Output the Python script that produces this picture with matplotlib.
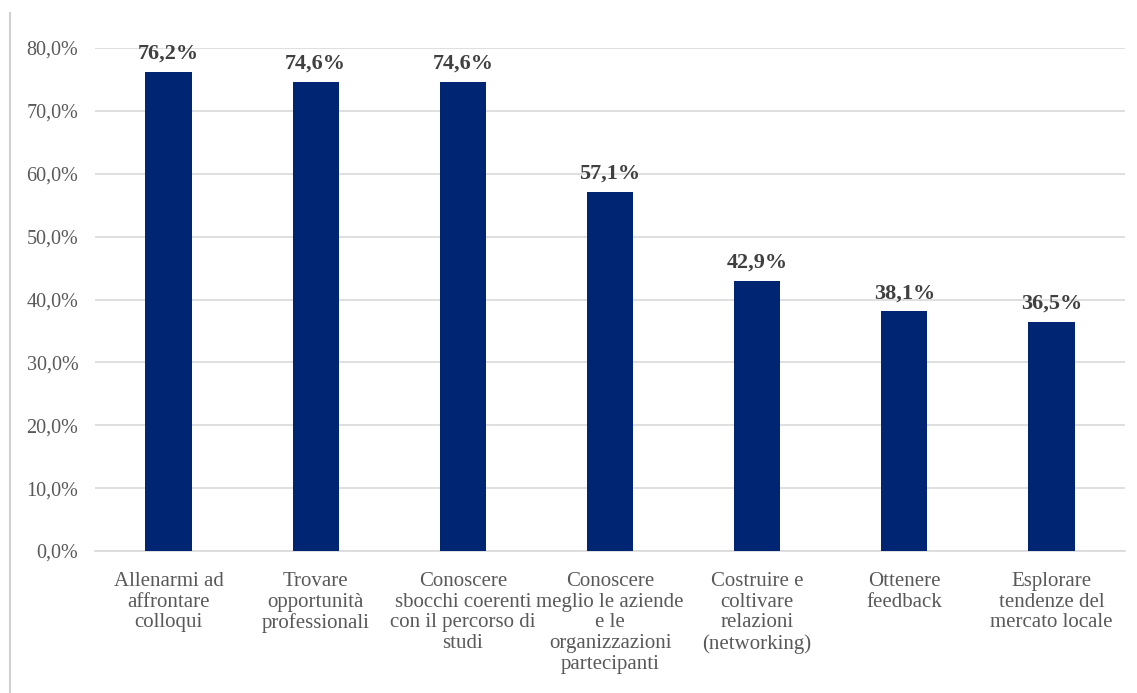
import numpy as np
import matplotlib.pyplot as plt
from matplotlib.lines import Line2D

categories = [
    "Allenarmi ad\naffrontare\ncolloqui",
    "Trovare\nopportunità\nprofessionali",
    "Conoscere\nsbocchi coerenti\ncon il percorso di\nstudi",
    "Conoscere\nmeglio le aziende\ne le\norganizzazioni\npartecipanti",
    "Costruire e\ncoltivare\nrelazioni\n(networking)",
    "Ottenere\nfeedback",
    "Esplorare\ntendenze del\nmercato locale",
]
values = [76.2, 74.6, 74.6, 57.1, 42.9, 38.1, 36.5]
yticks = np.arange(0, 81, 10)

plt.rcParams['font.family'] = ['Liberation Serif', 'DejaVu Serif']

fig = plt.figure(figsize=(11.37, 6.93), dpi=100)
ax = fig.add_axes([95 / 1137, 1 - 551 / 693, 1030 / 1137, (551 - 48) / 693])

x = np.arange(len(categories))
bars = ax.bar(x, values, width=0.315, color="#002673", zorder=3)

for rect, v in zip(bars, values):
    ax.text(rect.get_x() + rect.get_width() / 2, v + 1.3,
            "{:.1f}%".format(v).replace(".", ","),
            ha="center", va="bottom", fontsize=16, fontweight="bold",
            color="#404040", clip_on=False)

ax.set_xlim(-0.5, len(categories) - 0.5)
ax.set_ylim(0, 80)
ax.set_yticks(yticks)
ax.set_yticklabels(["{:.1f}%".format(t).replace(".", ",") for t in yticks])
ax.set_xticks(x)
ax.set_xticklabels(categories, fontsize=15, color="#595959", linespacing=1.12)
ax.tick_params(axis="y", labelsize=14.5, labelcolor="#595959", length=0, pad=12)
ax.tick_params(axis="x", length=0, pad=15)

ax.grid(axis="y", color="#d9d9d9", lw=1.2, zorder=0)
for s in ["top", "right", "left"]:
    ax.spines[s].set_visible(False)
ax.spines["bottom"].set_color("#d9d9d9")
ax.spines["bottom"].set_linewidth(1.2)

# chart frame edge on the left
fig.add_artist(Line2D([10 / 1137, 10 / 1137], [0, 1 - 13 / 693],
                      transform=fig.transFigure, color="#d0d0d0", lw=1.5))

fig.savefig("out.png", dpi=100)
